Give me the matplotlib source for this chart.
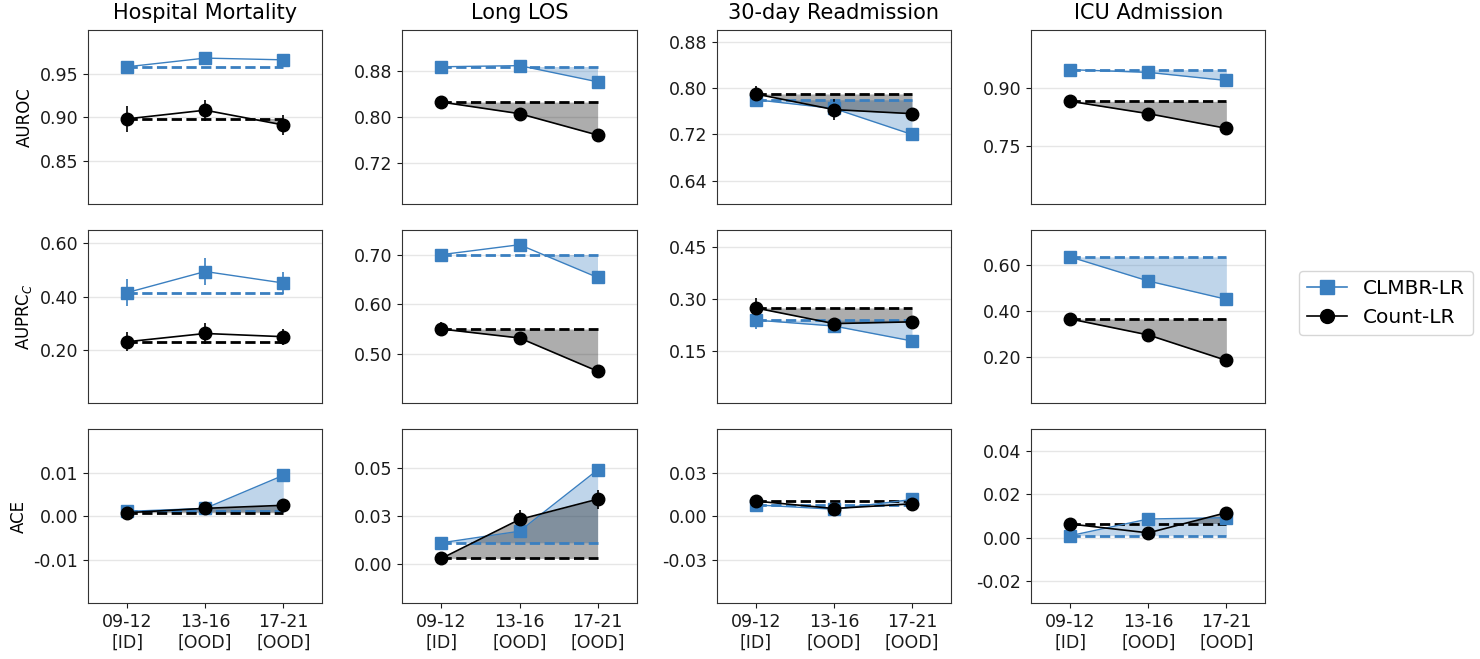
import matplotlib

matplotlib.use("Agg")
import matplotlib.pyplot as plt
import numpy as np
from matplotlib.lines import Line2D
from matplotlib.ticker import FormatStrFormatter

tasks = ["Hospital Mortality", "Long LOS", "30-day Readmission", "ICU Admission"]
metrics = ["AUROC", "AUPRC$_C$", "ACE"]
groups = ["09-12\n[ID]", "13-16\n[OOD]", "17-21\n[OOD]"]

# values per task: [09-12, 13-16, 17-21]
clmbr_auroc = [[0.958, 0.968, 0.966], [0.887, 0.889, 0.861], [0.780, 0.765, 0.720], [0.948, 0.941, 0.920]]
count_auroc = [[0.898, 0.908, 0.891], [0.826, 0.806, 0.769], [0.790, 0.763, 0.756], [0.866, 0.834, 0.796]]
clmbr_auroc_err = [[0.004, 0.003, 0.003], [0.002, 0.002, 0.003], [0.010, 0.008, 0.006], [0.003, 0.003, 0.004]]
count_auroc_err = [[0.015, 0.012, 0.012], [0.003, 0.003, 0.003], [0.014, 0.018, 0.008], [0.003, 0.003, 0.004]]

clmbr_auprc = [[0.415, 0.494, 0.451], [0.700, 0.720, 0.654], [0.240, 0.223, 0.180], [0.633, 0.529, 0.450]]
count_auprc = [[0.231, 0.262, 0.250], [0.550, 0.532, 0.465], [0.275, 0.230, 0.235], [0.365, 0.296, 0.186]]
clmbr_auprc_err = [[0.050, 0.050, 0.040], [0.010, 0.010, 0.010], [0.025, 0.020, 0.010], [0.020, 0.020, 0.010]]
count_auprc_err = [[0.035, 0.040, 0.030], [0.015, 0.010, 0.010], [0.030, 0.015, 0.010], [0.020, 0.010, 0.010]]

clmbr_ace = [[0.0011, 0.0018, 0.0094], [0.0112, 0.0172, 0.0490], [0.0065, 0.0040, 0.0096], [0.0010, 0.0087, 0.0093]]
count_ace = [[0.0008, 0.0018, 0.0025], [0.0031, 0.0233, 0.0338], [0.0087, 0.0044, 0.0071], [0.0064, 0.0023, 0.0116]]
clmbr_ace_err = [[0.001, 0.001, 0.001], [0.003, 0.003, 0.002], [0.002, 0.002, 0.002], [0.001, 0.001, 0.001]]
count_ace_err = [[0.001, 0.001, 0.001], [0.002, 0.005, 0.005], [0.002, 0.002, 0.002], [0.001, 0.001, 0.001]]

ylims = [
    [(0.80, 1.00), (0.65, 0.95), (0.60, 0.90), (0.60, 1.05)],
    [(0.0, 0.65), (0.40, 0.75), (0.0, 0.50), (0.0, 0.75)],
    [(-0.02, 0.02), (-0.02, 0.07), (-0.05, 0.05), (-0.03, 0.05)],
]
yticks = [
    [[0.85, 0.90, 0.95], [0.72, 0.80, 0.88], [0.64, 0.72, 0.80, 0.88], [0.75, 0.90]],
    [[0.2, 0.4, 0.6], [0.5, 0.6, 0.7], [0.15, 0.30, 0.45], [0.2, 0.4, 0.6]],
    [[-0.01, 0.0, 0.01], [0.0, 0.025, 0.05], [-0.025, 0.0, 0.025], [-0.02, 0.0, 0.02, 0.04]],
]

BLUE = "#3a7fc0"
models = [
    ("CLMBR-LR", BLUE, "s", 8, 1.0, [clmbr_auroc, clmbr_auprc, clmbr_ace], [clmbr_auroc_err, clmbr_auprc_err, clmbr_ace_err]),
    ("Count-LR", "black", "o", 9, 1.2, [count_auroc, count_auprc, count_ace], [count_auroc_err, count_auprc_err, count_ace_err]),
]

plt.rcParams["font.family"] = "DejaVu Sans"
fig, axes = plt.subplots(3, 4, figsize=(14.8, 6.59), dpi=100)
fig.subplots_adjust(left=0.0595, right=0.855, top=0.954, bottom=0.085, wspace=0.342, hspace=0.149)

x = np.arange(len(groups))
for r in range(3):
    for c in range(4):
        ax = axes[r, c]
        for name, col, mk, ms, lw, vals, errs in models:
            y = np.array(vals[r][c])
            e = np.array(errs[r][c])
            base = np.full_like(y, y[0])
            ax.errorbar(x, y, yerr=e, color=col, marker=mk, ms=ms, lw=lw, elinewidth=1.2, capsize=0, zorder=3)
            ax.plot(x, base, color=col, ls="--", lw=2, zorder=2)
            # shade the degradation vs. the ID baseline (lower is better for ACE)
            worse = y > base if r == 2 else y < base
            ax.fill_between(x, base, y, where=worse, interpolate=True, color=col, alpha=0.32, lw=0, zorder=1)
        ax.set_xlim(-0.5, 2.5)
        ax.set_ylim(*ylims[r][c])
        ax.set_yticks(yticks[r][c])
        ax.yaxis.set_major_formatter(FormatStrFormatter("%.2f"))
        ax.grid(axis="y", color="#e6e6e6", lw=1, zorder=0)
        ax.set_axisbelow(True)
        ax.tick_params(labelsize=12.5, colors="#1a1a1a")
        for s in ax.spines.values():
            s.set_color("#333333")
        if r < 2:
            ax.set_xticks([])
        else:
            ax.set_xticks(x)
            ax.set_xticklabels(groups)
        if r == 0:
            ax.set_title(tasks[c], fontsize=15, pad=8)
        if c == 0:
            ax.set_ylabel(metrics[r], fontsize=12)

handles = [
    Line2D([], [], color=BLUE, marker="s", ms=10, lw=1.2),
    Line2D([], [], color="black", marker="o", ms=10, lw=1.2),
]
fig.legend(handles, ["CLMBR-LR", "Count-LR"], loc="center", bbox_to_anchor=(0.9365, 0.54), fontsize=14.5, frameon=True, edgecolor="#cccccc")

fig.savefig("out.png", dpi=100, facecolor="white")
